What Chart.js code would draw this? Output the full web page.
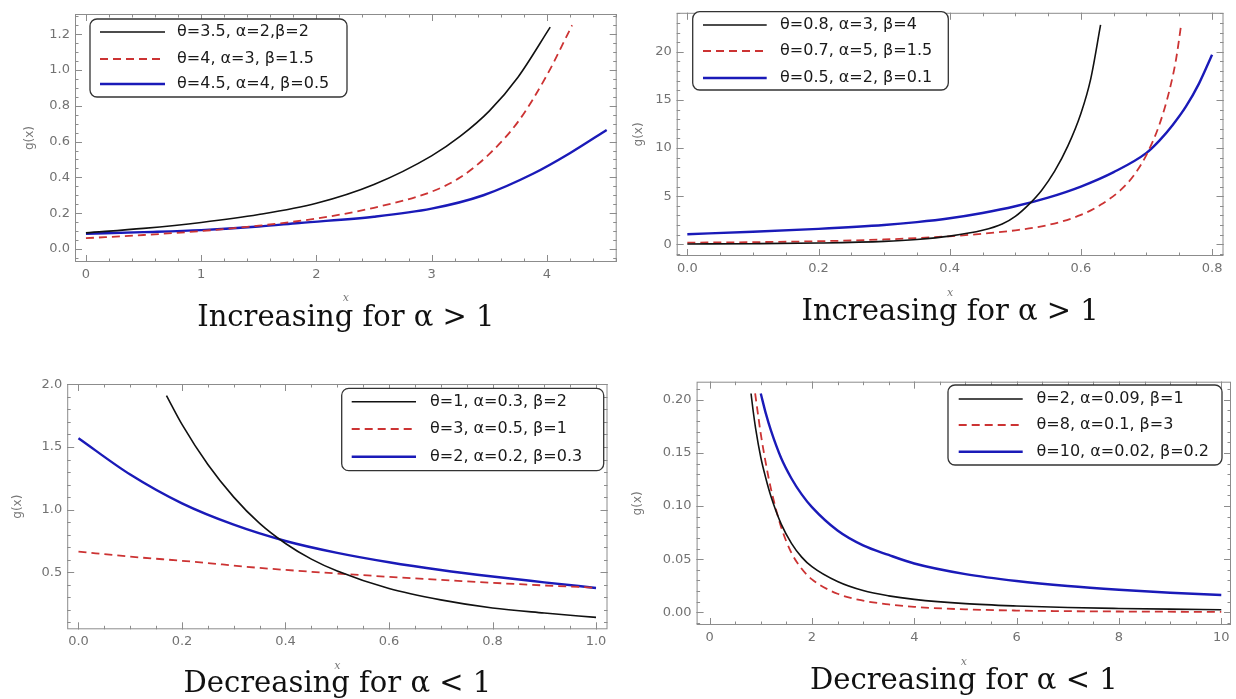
<!DOCTYPE html>
<html>
<head>
<meta charset="utf-8">
<script src="https://cdn.jsdelivr.net/npm/chart.js@4.4.1/dist/chart.umd.min.js"></script>
<style>
  html, body { margin: 0; padding: 0; background: #fff; }
  #wrap { position: relative; width: 1236px; height: 699px; overflow: hidden; }
  #wrap canvas { position: absolute; }
</style>
</head>
<body>
<div id="wrap"></div>
<script>
// ---- data ----
// top left: increasing for alpha > 1
var p1Labels = ['θ=3.5, α=2,β=2', 'θ=4, α=3, β=1.5', 'θ=4.5, α=4, β=0.5'];
var p1Black = [[0,0.09],[0.5,0.115],[1,0.148],[1.5,0.192],[2,0.255],[2.5,0.36],[3,0.52],[3.25,0.63],[3.5,0.77],[3.75,0.96],[4.03,1.24]];
var p1Red = [[0,0.06],[0.5,0.078],[1,0.1],[1.5,0.13],[2,0.17],[2.5,0.23],[3,0.32],[3.25,0.4],[3.5,0.53],[3.75,0.71],[4,0.97],[4.22,1.25]];
var p1Blue = [[0,0.085],[0.5,0.094],[1,0.105],[1.5,0.125],[1.85,0.145],[2.5,0.18],[3,0.225],[3.45,0.3],[3.88,0.42],[4.2,0.535],[4.52,0.665]];
var p1XTicks = [0, 1, 2, 3, 4];
var p1YTicks = [0, 0.2, 0.4, 0.6, 0.8, 1.0, 1.2];

// top right: increasing for alpha > 1
var p2Labels = ['θ=0.8, α=3, β=4', 'θ=0.7, α=5, β=1.5', 'θ=0.5, α=2, β=0.1'];
var p2Black = [[0,0.03],[0.1,0.06],[0.2,0.13],[0.3,0.3],[0.35,0.5],[0.4,0.85],[0.45,1.45],[0.48,2.1],[0.5,2.9],[0.52,4.1],[0.54,5.6],[0.56,7.6],[0.58,10.2],[0.6,13.6],[0.615,17.2],[0.63,22.8]];
var p2Red = [[0,0.17],[0.1,0.22],[0.2,0.32],[0.3,0.5],[0.4,0.83],[0.45,1.1],[0.5,1.45],[0.55,2.0],[0.6,3.05],[0.63,4.1],[0.66,5.6],[0.68,7.1],[0.7,9.3],[0.72,12.5],[0.735,16],[0.745,19.2],[0.753,22.9]];
var p2Blue = [[0,1.05],[0.1,1.3],[0.2,1.6],[0.3,2.0],[0.35,2.3],[0.4,2.7],[0.45,3.25],[0.5,3.95],[0.55,4.85],[0.6,6.0],[0.65,7.5],[0.7,9.5],[0.72,10.8],[0.74,12.4],[0.76,14.3],[0.78,16.7],[0.8,19.7]];
var p2XTicks = [0, 0.2, 0.4, 0.6, 0.8];
var p2YTicks = [0, 5, 10, 15, 20];

// bottom left: decreasing for alpha < 1
var p3Labels = ['θ=1, α=0.3, β=2', 'θ=3, α=0.5, β=1', 'θ=2, α=0.2, β=0.3'];
var p3Black = [[0.17,1.91],[0.2,1.68],[0.25,1.36],[0.3,1.1],[0.35,0.89],[0.4,0.73],[0.45,0.605],[0.5,0.51],[0.6,0.37],[0.7,0.28],[0.8,0.215],[0.9,0.175],[1.0,0.14]];
var p3Red = [[0,0.665],[0.1,0.625],[0.22,0.585],[0.35,0.535],[0.52,0.485],[0.74,0.43],[0.9,0.395],[1.0,0.377]];
var p3Blue = [[0,1.57],[0.1,1.28],[0.2,1.05],[0.3,0.88],[0.4,0.75],[0.5,0.655],[0.6,0.58],[0.7,0.518],[0.8,0.466],[0.9,0.42],[1.0,0.375]];
var p3XTicks = [0, 0.2, 0.4, 0.6, 0.8, 1.0];
var p3YTicks = [0.5, 1.0, 1.5, 2.0];

// bottom right: decreasing for alpha < 1
var p4Labels = ['θ=2, α=0.09, β=1', 'θ=8, α=0.1, β=3', 'θ=10, α=0.02, β=0.2'];
var p4Black = [[0.81,0.206],[0.85,0.19],[0.9,0.173],[1.0,0.146],[1.1,0.126],[1.2,0.109],[1.4,0.083],[1.6,0.065],[1.8,0.052],[2,0.043],[2.5,0.029],[3,0.0205],[3.5,0.0155],[4,0.0122],[5,0.0082],[6,0.006],[7,0.0046],[8,0.0037],[9,0.003],[10,0.0025]];
var p4Red = [[0.89,0.206],[0.95,0.185],[1.0,0.168],[1.1,0.14],[1.2,0.116],[1.4,0.08],[1.6,0.056],[1.8,0.041],[2,0.031],[2.5,0.0175],[3,0.011],[3.5,0.0075],[4,0.0052],[5,0.0028],[6,0.0017],[7,0.0011],[8,0.0008],[10,0.0004]];
var p4Blue = [[1.0,0.206],[1.1,0.187],[1.2,0.171],[1.4,0.145],[1.6,0.126],[1.8,0.111],[2,0.099],[2.5,0.077],[3,0.063],[3.5,0.054],[4,0.046],[5,0.036],[6,0.0295],[7,0.0248],[8,0.0213],[9,0.0185],[10,0.0163]];
var p4XTicks = [0, 2, 4, 6, 8, 10];
var p4YTicks = [0, 0.05, 0.1, 0.15, 0.2];

// ---- drawing ----
var TICK_FONT = { family: 'DejaVu Sans', size: 13 };
var TICK_COLOR = '#727272';
var TITLE_SIZE = 29;

// frame with inward ticks on all four sides, like the original plots
function frameTicks(minorX, minorY) {
    return {
        id: 'frameTicks',
        beforeDatasetsDraw: function(chart) {
            var ctx = chart.ctx, a = chart.chartArea;
            var sx = chart.scales.x, sy = chart.scales.y;
            ctx.save();
            ctx.strokeStyle = '#8c8c8c';
            ctx.lineWidth = 1;
            ctx.strokeRect(a.left + 0.5, a.top + 0.5, a.right - a.left - 1, a.bottom - a.top - 1);
            ctx.beginPath();
            function marks(scale, step, len, horiz) {
                var i0 = Math.ceil(scale.min / step - 1e-6), i1 = Math.floor(scale.max / step + 1e-6);
                for (var i = i0; i <= i1; i++) {
                    var p = Math.round(scale.getPixelForValue(i * step)) + 0.5;
                    if (horiz) {
                        ctx.moveTo(p, a.bottom); ctx.lineTo(p, a.bottom - len);
                        ctx.moveTo(p, a.top); ctx.lineTo(p, a.top + len);
                    } else {
                        ctx.moveTo(a.left, p); ctx.lineTo(a.left + len, p);
                        ctx.moveTo(a.right, p); ctx.lineTo(a.right - len, p);
                    }
                }
            }
            marks(sx, minorX, 3.5, true);
            marks(sy, minorY, 3.5, false);
            sx.ticks.forEach(function(t) {
                var p = Math.round(sx.getPixelForValue(t.value)) + 0.5;
                ctx.moveTo(p, a.bottom); ctx.lineTo(p, a.bottom - 7);
                ctx.moveTo(p, a.top); ctx.lineTo(p, a.top + 7);
            });
            sy.ticks.forEach(function(t) {
                var p = Math.round(sy.getPixelForValue(t.value)) + 0.5;
                ctx.moveTo(a.left, p); ctx.lineTo(a.left + 7, p);
                ctx.moveTo(a.right, p); ctx.lineTo(a.right - 7, p);
            });
            ctx.stroke();
            ctx.restore();
        }
    };
}

// legend drawn inside the plot, in a rounded box
function insetLegend(box) {
    return {
        id: 'insetLegend',
        afterDatasetsDraw: function(chart) {
            var ctx = chart.ctx;
            ctx.save();
            ctx.beginPath();
            ctx.roundRect(box.left, box.top, box.width, box.height, 7);
            ctx.fillStyle = '#fff';
            ctx.fill();
            ctx.lineWidth = 1.3;
            ctx.strokeStyle = '#333';
            ctx.stroke();
            chart.data.datasets.forEach(function(ds, i) {
                var yy = box.rows[i];
                ctx.beginPath();
                ctx.setLineDash(ds.borderDash || []);
                ctx.strokeStyle = ds.borderColor;
                ctx.lineWidth = ds.borderWidth;
                ctx.moveTo(box.lineStart, yy);
                ctx.lineTo(box.lineEnd, yy);
                ctx.stroke();
                ctx.setLineDash([]);
                ctx.fillStyle = '#1a1a1a';
                ctx.font = '16px "DejaVu Sans"';
                ctx.textBaseline = 'middle';
                ctx.fillText(ds.label, box.textStart, yy);
            });
            ctx.restore();
        }
    };
}

function toPoints(pairs) {
    return pairs.map(function(p) { return { x: p[0], y: p[1] }; });
}

function makePanel(c) {
    var canvas = document.createElement('canvas');
    canvas.width = c.cw;
    canvas.height = c.ch;
    canvas.style.left = c.cx + 'px';
    canvas.style.top = c.cy + 'px';
    document.getElementById('wrap').appendChild(canvas);

    // pin the plot frame where it sits in the original
    var yTitleLeft = c.yTitleX - 7.2 - 2;
    var yAxisW = c.L - yTitleLeft;
    var xAxisH = c.xTitleY - c.B + 6.6;
    var titleTop = c.titleY - (c.B + xAxisH) - TITLE_SIZE / 2;

    var styles = [
        { color: '#111111', width: 1.6, dash: [] },
        { color: '#cc3333', width: 1.8, dash: [8, 5] },
        { color: '#1a1ab8', width: 2.4, dash: [] }
    ];

    new Chart(canvas, {
        type: 'scatter',
        data: {
            datasets: c.series.map(function(s, i) {
                return {
                    label: c.labels[i],
                    data: toPoints(s),
                    showLine: true,
                    pointRadius: 0,
                    borderColor: styles[i].color,
                    borderWidth: styles[i].width,
                    borderDash: styles[i].dash,
                    cubicInterpolationMode: 'monotone'
                };
            })
        },
        options: {
            responsive: false,
            animation: false,
            layout: {
                padding: {
                    left: yTitleLeft - c.cx,
                    top: c.T - c.cy,
                    right: c.cx + c.cw - c.R,
                    bottom: Math.max(0, c.cy + c.ch - (c.titleY + TITLE_SIZE / 2))
                }
            },
            plugins: {
                legend: { display: false },
                tooltip: { enabled: false },
                title: {
                    display: true,
                    position: 'bottom',
                    fullSize: false,
                    text: c.title,
                    color: '#111',
                    font: { family: 'DejaVu Serif', size: TITLE_SIZE, weight: 'normal', lineHeight: 1 },
                    padding: { top: titleTop, bottom: 0 }
                }
            },
            scales: {
                x: {
                    type: 'linear',
                    min: c.xMin,
                    max: c.xMax,
                    grid: { display: false, drawTicks: false },
                    border: { display: false },
                    ticks: {
                        font: TICK_FONT, color: TICK_COLOR, padding: 5, maxRotation: 0, autoSkip: false,
                        callback: function(v) { return v.toFixed(c.xDec); }
                    },
                    afterBuildTicks: function(s) { s.ticks = c.xTicks.map(function(v) { return { value: v }; }); },
                    afterFit: function(s) { s.height = xAxisH; },
                    title: {
                        display: true, text: 'x', color: '#777',
                        font: { family: 'DejaVu Serif', style: 'italic', size: 11 },
                        padding: 0
                    }
                },
                y: {
                    type: 'linear',
                    min: c.yMin,
                    max: c.yMax,
                    grid: { display: false, drawTicks: false },
                    border: { display: false },
                    ticks: {
                        font: TICK_FONT, color: TICK_COLOR, padding: 5, autoSkip: false,
                        callback: function(v) { return v.toFixed(c.yDec); }
                    },
                    afterBuildTicks: function(s) { s.ticks = c.yTicks.map(function(v) { return { value: v }; }); },
                    afterFit: function(s) { s.width = yAxisW; },
                    title: {
                        display: true, text: 'g(x)', color: '#777',
                        font: { family: 'DejaVu Sans', size: 12 },
                        padding: { top: 2, bottom: 0 }
                    }
                }
            }
        },
        plugins: [frameTicks(c.minorX, c.minorY), insetLegend(c.legend)]
    });
}

makePanel({
    cx: 0, cy: 0, cw: 618, ch: 350,
    L: 75, T: 14, R: 616.7, B: 262, yTitleX: 30, xTitleY: 297.7, titleY: 318,
    xMin: -0.095, xMax: 4.607, yMin: -0.073, yMax: 1.313,
    xTicks: p1XTicks, yTicks: p1YTicks, xDec: 0, yDec: 1, minorX: 0.2, minorY: 0.05,
    series: [p1Black, p1Red, p1Blue], labels: p1Labels,
    title: 'Increasing for α > 1',
    legend: { left: 90, top: 19, width: 257, height: 78, rows: [32, 59, 84], lineStart: 100, lineEnd: 165, textStart: 177 }
});

makePanel({
    cx: 618, cy: 0, cw: 618, ch: 350,
    L: 676.7, T: 7, R: 1223.5, B: 256, yTitleX: 638.5, xTitleY: 293.3, titleY: 312.7,
    xMin: -0.0162, xMax: 0.8174, yMin: -1.218, yMax: 24.06,
    xTicks: p2XTicks, yTicks: p2YTicks, xDec: 1, yDec: 0, minorX: 0.05, minorY: 1,
    series: [p2Black, p2Red, p2Blue], labels: p2Labels,
    title: 'Increasing for α > 1',
    legend: { left: 74.7, top: 11.7, width: 255.6, height: 78.3, rows: [25, 51, 78], lineStart: 85, lineEnd: 148.7, textStart: 162 }
});

makePanel({
    cx: 0, cy: 350, cw: 618, ch: 349,
    L: 67.2, T: 384, R: 607.5, B: 629.3, yTitleX: 18, xTitleY: 666, titleY: 684,
    xMin: -0.0218, xMax: 1.0222, yMin: 0.045, yMax: 2.003,
    xTicks: p3XTicks, yTicks: p3YTicks, xDec: 1, yDec: 1, minorX: 0.05, minorY: 0.1,
    series: [p3Black, p3Red, p3Blue], labels: p3Labels,
    title: 'Decreasing for α < 1',
    legend: { left: 341.7, top: 38.3, width: 262, height: 82.4, rows: [51.7, 79, 106.7], lineStart: 351.7, lineEnd: 416, textStart: 430 }
});

makePanel({
    cx: 618, cy: 350, cw: 618, ch: 349,
    L: 696.6, T: 381.7, R: 1231, B: 625, yTitleX: 638, xTitleY: 661.7, titleY: 681,
    xMin: -0.254, xMax: 10.19, yMin: -0.0119, yMax: 0.2171,
    xTicks: p4XTicks, yTicks: p4YTicks, xDec: 0, yDec: 2, minorX: 0.5, minorY: 0.01,
    series: [p4Black, p4Red, p4Blue], labels: p4Labels,
    title: 'Decreasing for α < 1',
    legend: { left: 330, top: 35, width: 274, height: 80, rows: [49, 75, 101.7], lineStart: 340.7, lineEnd: 404.7, textStart: 418.5 }
});
</script>
</body>
</html>
